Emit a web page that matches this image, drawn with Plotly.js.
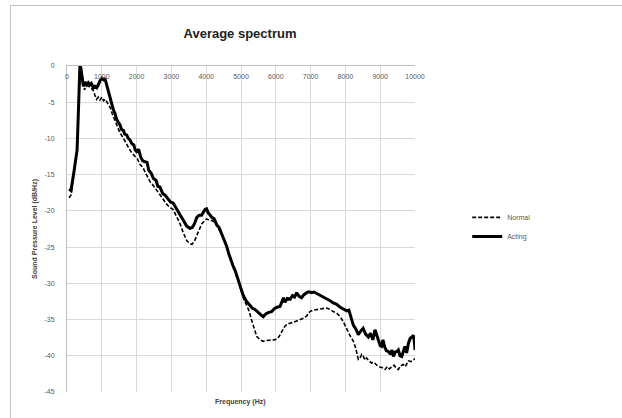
<!DOCTYPE html>
<html>
<head>
<meta charset="utf-8">
<script src="https://cdn.plot.ly/plotly-3.0.1.min.js"></script>
<style>
  html, body { margin: 0; padding: 0; background: #fff; }
  #chart { width: 622px; height: 418px; position: absolute; left: 0; top: 0; }
  #frame { position: absolute; left: 10px; top: 5px; width: 640px; height: 440px;
           border: 1.5px solid #c4c4c4; pointer-events: none; }
</style>
</head>
<body>
<div id="chart"></div>
<div id="frame"></div>
<script>
// ---- data ----
const actingFreq = [60,115,200,290,340,370,400,430,470,520,560,613,660,700,757,800,853,900,950,1000,1050,1090,1140,1190,1240,1290,1330,1380,1430,1480,1520,1570,1620,1660,1715,1760,1810,1860,1920,1960,2000,2060,2120,2180,2240,2300,2350,2420,2480,2560,2610,2670,2750,2830,2910,2980,3050,3100,3150,3250,3340,3440,3530,3600,3660,3730,3800,3870,3930,3970,4010,4060,4100,4160,4230,4300,4370,4430,4490,4540,4590,4640,4680,4730,4780,4830,4880,4920,4970,5020,5060,5110,5160,5250,5320,5400,5480,5560,5640,5720,5800,5880,5960,6030,6120,6180,6220,6260,6330,6410,6480,6540,6600,6670,6740,6800,6860,6920,6980,7030,7100,7180,7270,7370,7460,7560,7650,7750,7850,7940,8040,8100,8130,8180,8230,8300,8370,8440,8510,8580,8660,8720,8790,8850,8900,8940,9000,9040,9080,9130,9180,9230,9300,9340,9380,9430,9480,9520,9570,9620,9670,9710,9760,9810,9860,9920,9960,9990,10000];
const actingLevel = [-17,-17.2,-14.6,-11.6,-4.5,0,-0.3,-1.8,-2.8,-2.2,-2.6,-2.3,-2.6,-2.4,-3.0,-2.8,-3.0,-2.6,-2.0,-1.7,-1.9,-1.7,-2.6,-3.5,-4.7,-5.2,-6.0,-6.6,-7.4,-7.8,-8.1,-8.8,-8.9,-9.4,-9.5,-10.0,-10.2,-10.7,-10.9,-11.6,-11.8,-11.5,-12.6,-13.1,-13.2,-13.3,-14.4,-14.8,-15.5,-15.8,-16.6,-16.7,-17.6,-17.9,-18.4,-18.8,-18.9,-19.3,-19.6,-20.5,-21.3,-22.1,-22.4,-22.3,-21.8,-20.9,-20.6,-20.6,-20.1,-19.8,-19.7,-20.3,-20.5,-20.9,-21.1,-21.9,-22.3,-23.0,-23.6,-24.2,-24.9,-25.8,-26.4,-27.0,-27.7,-28.2,-29.0,-29.6,-30.3,-31.0,-31.6,-32.1,-32.5,-33.0,-33.4,-33.6,-34.0,-34.3,-34.6,-34.2,-34.0,-33.9,-33.5,-33.3,-33.2,-32.6,-32.0,-32.6,-32.1,-32.2,-31.7,-31.9,-31.3,-31.8,-32.0,-31.6,-31.4,-31.2,-31.2,-31.3,-31.2,-31.4,-31.7,-31.9,-32.1,-32.4,-32.7,-32.9,-33.3,-33.5,-33.8,-33.7,-34.2,-35.3,-35.8,-36.3,-37.1,-36.6,-36.2,-37.0,-37.4,-36.9,-37.8,-36.4,-37.2,-37.8,-38.6,-38.7,-37.8,-38.8,-39.3,-39.4,-39.8,-39.2,-40.1,-39.5,-39.4,-39.2,-40.0,-40.1,-39.4,-38.7,-39.6,-38.3,-37.6,-37.4,-37.2,-38.5,-39.2];

const normalFreq = [60,115,200,290,340,380,420,460,500,560,620,700,760,800,850,900,950,1000,1050,1100,1150,1200,1250,1300,1380,1450,1520,1600,1680,1760,1860,1950,2020,2100,2180,2250,2320,2390,2480,2560,2650,2750,2850,2950,3050,3150,3250,3340,3440,3530,3590,3660,3730,3800,3870,3940,4010,4100,4200,4300,4400,4500,4600,4700,4800,4900,5000,5080,5160,5230,5300,5380,5450,5550,5640,5740,5840,5940,6030,6100,6180,6250,6310,6400,6500,6600,6700,6800,6890,6980,7080,7180,7280,7370,7460,7560,7650,7750,7850,7940,8040,8130,8230,8300,8370,8420,8470,8510,8560,8610,8660,8750,8820,8900,8970,9040,9140,9200,9260,9330,9400,9460,9520,9580,9660,9720,9810,9880,9950,10000];
const normalLevel = [-18.2,-17.8,-14.8,-11.5,-4,-1.3,-0.8,-2.5,-3.3,-2.7,-2.8,-3.1,-3.4,-4.0,-4.6,-4.3,-4.7,-4.3,-4.8,-4.6,-5.0,-5.3,-5.8,-6.6,-7.5,-8.5,-9.2,-9.8,-10.6,-11.2,-12.0,-12.5,-12.8,-13.6,-14.0,-14.7,-15.3,-16.0,-16.5,-17.0,-17.6,-18.3,-19.0,-19.5,-19.8,-20.7,-21.8,-23.0,-24.1,-24.5,-24.6,-24.2,-23.5,-22.6,-21.8,-21.4,-21.1,-21.3,-21.4,-22.0,-22.9,-23.7,-25.0,-26.6,-28.0,-29.4,-30.8,-32.2,-33.0,-33.8,-35.0,-36.2,-37.3,-37.8,-38.0,-37.9,-37.9,-37.8,-37.7,-37.3,-36.6,-36.0,-35.7,-35.5,-35.4,-35.2,-35.0,-34.8,-34.5,-33.9,-33.7,-33.6,-33.5,-33.4,-33.4,-33.6,-33.9,-34.1,-34.6,-35.3,-36.4,-37.2,-38.0,-39.0,-40.5,-40.3,-39.8,-40.0,-40.6,-40.3,-40.6,-41.0,-40.9,-41.3,-41.5,-41.6,-41.9,-41.5,-41.8,-41.5,-41.3,-41.7,-41.9,-41.4,-41.2,-41.5,-40.7,-40.8,-40.5,-40.4];

const seriesNames = ["Normal", "Acting"];
const xTicks = [0,1000,2000,3000,4000,5000,6000,7000,8000,9000,10000];
const yTicks = [0,-5,-10,-15,-20,-25,-30,-35,-40,-45];

const font = "Liberation Sans, Arial, sans-serif";
const traces = [
  { x: normalFreq, y: normalLevel, name: seriesNames[0], mode: "lines",
    line: { color: "#000", width: 1.6, dash: "4px,2px" } },
  { x: actingFreq, y: actingLevel, name: seriesNames[1], mode: "lines",
    line: { color: "#000", width: 3 } }
];

const layout = {
  width: 622, height: 418,
  margin: { l: 67, r: 207, t: 66, b: 26, pad: 0 },
  paper_bgcolor: "#fff", plot_bgcolor: "#fff",
  font: { family: font, size: 7, color: "#595959" },
  title: { text: "<b>Average spectrum</b>", x: 240/622, xanchor: "center", y: 1 - 33/418, yanchor: "middle",
           font: { family: font, size: 13, color: "#222" } },
  showlegend: true,
  legend: { x: 1.15, y: 0.58, xanchor: "left", yanchor: "top", bgcolor: "rgba(0,0,0,0)",
            font: { family: font, size: 7, color: "#595959" }, itemwidth: 30, tracegroupgap: 0 },
  xaxis: {
    range: [0, 10000], tickvals: xTicks, ticktext: xTicks.map(String),
    side: "top", ticks: "", ticklabelstandoff: -17,
    showgrid: true, gridcolor: "#d9d9d9", gridwidth: 1,
    showline: true, linecolor: "#bfbfbf", linewidth: 1, zeroline: false,
    tickfont: { family: font, size: 7, color: "#595959" }
  },
  yaxis: {
    range: [-45, 0], tickvals: yTicks, ticktext: yTicks.map(String),
    ticks: "", ticklabelstandoff: 10,
    showgrid: true, gridcolor: "#d9d9d9", gridwidth: 1,
    showline: true, linecolor: "#bfbfbf", linewidth: 1, zeroline: false,
    tickfont: { family: font, size: 7, color: "#595959" },
    title: { text: "<b>Sound Pressure Level (dB/Hz)</b>", standoff: 6,
             font: { family: font, size: 7, color: "#404040" } }
  },
  annotations: [
    { text: "<b>Frequency (Hz)</b>", xref: "paper", yref: "paper", x: (240-67)/348, y: -10/326,
      xanchor: "center", yanchor: "middle", showarrow: false,
      font: { family: font, size: 7, color: "#404040" } }
  ]
};

Plotly.newPlot("chart", traces, layout, { displayModeBar: false, staticPlot: true });
</script>
</body>
</html>
